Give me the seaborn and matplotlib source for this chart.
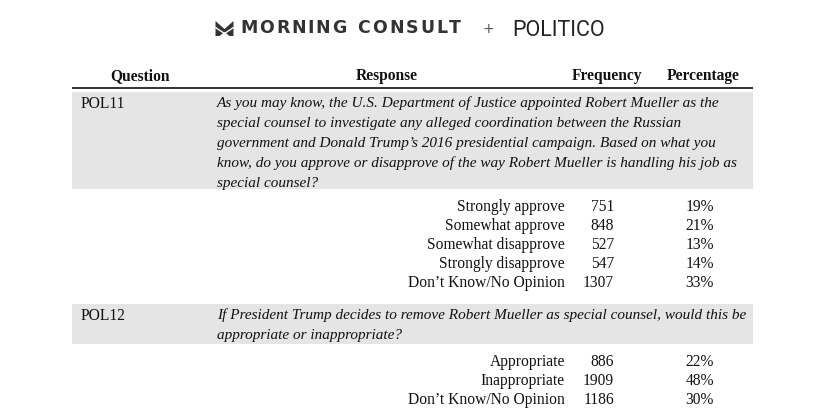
import matplotlib
matplotlib.use("Agg")
import matplotlib.pyplot as plt
import seaborn as sns
from matplotlib.patches import Rectangle, Polygon
from matplotlib.textpath import TextPath
from matplotlib.font_manager import FontProperties

sns.set_theme(style="white")
plt.rcParams['font.family'] = ['Liberation Serif', 'DejaVu Serif']

# ---- data ----
headers = ["Question", "Response", "Frequency", "Percentage"]
q_ids = ["POL11", "POL12"]
q1_text = ["As you may know, the U.S. Department of Justice appointed Robert Mueller as the",
           "special counsel to investigate any alleged coordination between the Russian",
           "government and Donald Trump\u2019s 2016 presidential campaign. Based on what you",
           "know, do you approve or disapprove of the way Robert Mueller is handling his job as",
           "special counsel?"]
q2_text = ["If President Trump decides to remove Robert Mueller as special counsel, would this be",
           "appropriate or inappropriate?"]
responses1 = ["Strongly approve", "Somewhat approve", "Somewhat disapprove",
              "Strongly disapprove", "Don\u2019t Know/No Opinion"]
freq1 = [751, 848, 527, 547, 1307]
pct1 = [19, 21, 13, 14, 33]
responses2 = ["Appropriate", "Inappropriate", "Don\u2019t Know/No Opinion"]
freq2 = [886, 1909, 1186]
pct2 = [22, 48, 30]

fig = plt.figure(figsize=(8.15, 4.2), dpi=100)
ax = fig.add_axes([0, 0, 1, 1])
ax.set_xlim(0, 815)
ax.set_ylim(420, 0)
ax.axis("off")

FS = 11.2
txt = "#111111"

# ---- logo ----
icon = Polygon([(215.5, 21), (224.5, 29), (233.5, 21), (233.5, 36), (229.5, 36),
                (224.5, 32), (219.5, 36), (215.5, 36)], closed=True,
               facecolor="#333333", edgecolor="none")
ax.add_patch(icon)
ax.plot([215.5, 224.5, 233.5], [27.5, 33.5, 27.5], color="white", lw=1.0)

brand = "MORNING CONSULT"
bsize = 12.5
bfp = FontProperties(family="DejaVu Sans", weight="bold", size=bsize)
px = 100 / 72
bar_w = TextPath((0, 0), "|", prop=bfp).get_extents().width * px
adv = []
for ch in brand:
    if ch == " ":
        adv.append(0.45 * bsize * px)
    else:
        adv.append(TextPath((0, 0), ch + "|", prop=bfp).get_extents().width * px - bar_w)
track = (462 - 240 - sum(adv[:-1]) - (adv[-1] - 1)) / (len(brand) - 1)
x = 240
for ch, a in zip(brand, adv):
    if ch != " ":
        ax.text(x, 33, ch, fontproperties=bfp, color="#333333", ha="left", va="baseline")
    x += a + track

ax.text(488, 33, "+", fontsize=10, family=["DejaVu Sans"], color="#555555",
        ha="center", va="baseline")
ax.text(512, 36.5, "POLITICO", fontsize=15.5, family=["Roboto", "DejaVu Sans"],
        color="#222222", ha="left", va="baseline")

# ---- header ----
hx = [140, 387, 607, 703]
for hxi, h in zip(hx, headers):
    ax.text(hxi, 80, h, fontsize=FS, fontweight="bold", ha="center",
            va="baseline", color=txt)
ax.plot([72, 753], [88, 88], color="#222222", lw=1.3, solid_capstyle="butt")


def block(y_top, qid, qlines, resp, freq, pct, band_h):
    ax.add_patch(Rectangle((72, y_top), 681, band_h, facecolor="#e5e5e5",
                           edgecolor="none"))
    base = y_top + 15.5
    ax.text(81, base, qid, fontsize=FS, ha="left", va="baseline", color=txt)
    for i, line in enumerate(qlines):
        ax.text(217, base + 20 * i, line, fontsize=11, style="italic",
                ha="left", va="baseline", color=txt)
    rb = y_top + band_h + 22
    for i, (r, f, p) in enumerate(zip(resp, freq, pct)):
        y = rb + 19 * i
        ax.text(565, y, r, fontsize=FS, ha="right", va="baseline", color=txt)
        ax.text(614, y, str(f), fontsize=FS, ha="right", va="baseline", color=txt)
        ax.text(714, y, f"{p}%", fontsize=FS, ha="right", va="baseline", color=txt)


block(92, q_ids[0], q1_text, responses1, freq1, pct1, 97)
block(304, q_ids[1], q2_text, responses2, freq2, pct2, 40)

fig.savefig("out.png", dpi=100, facecolor="white")
